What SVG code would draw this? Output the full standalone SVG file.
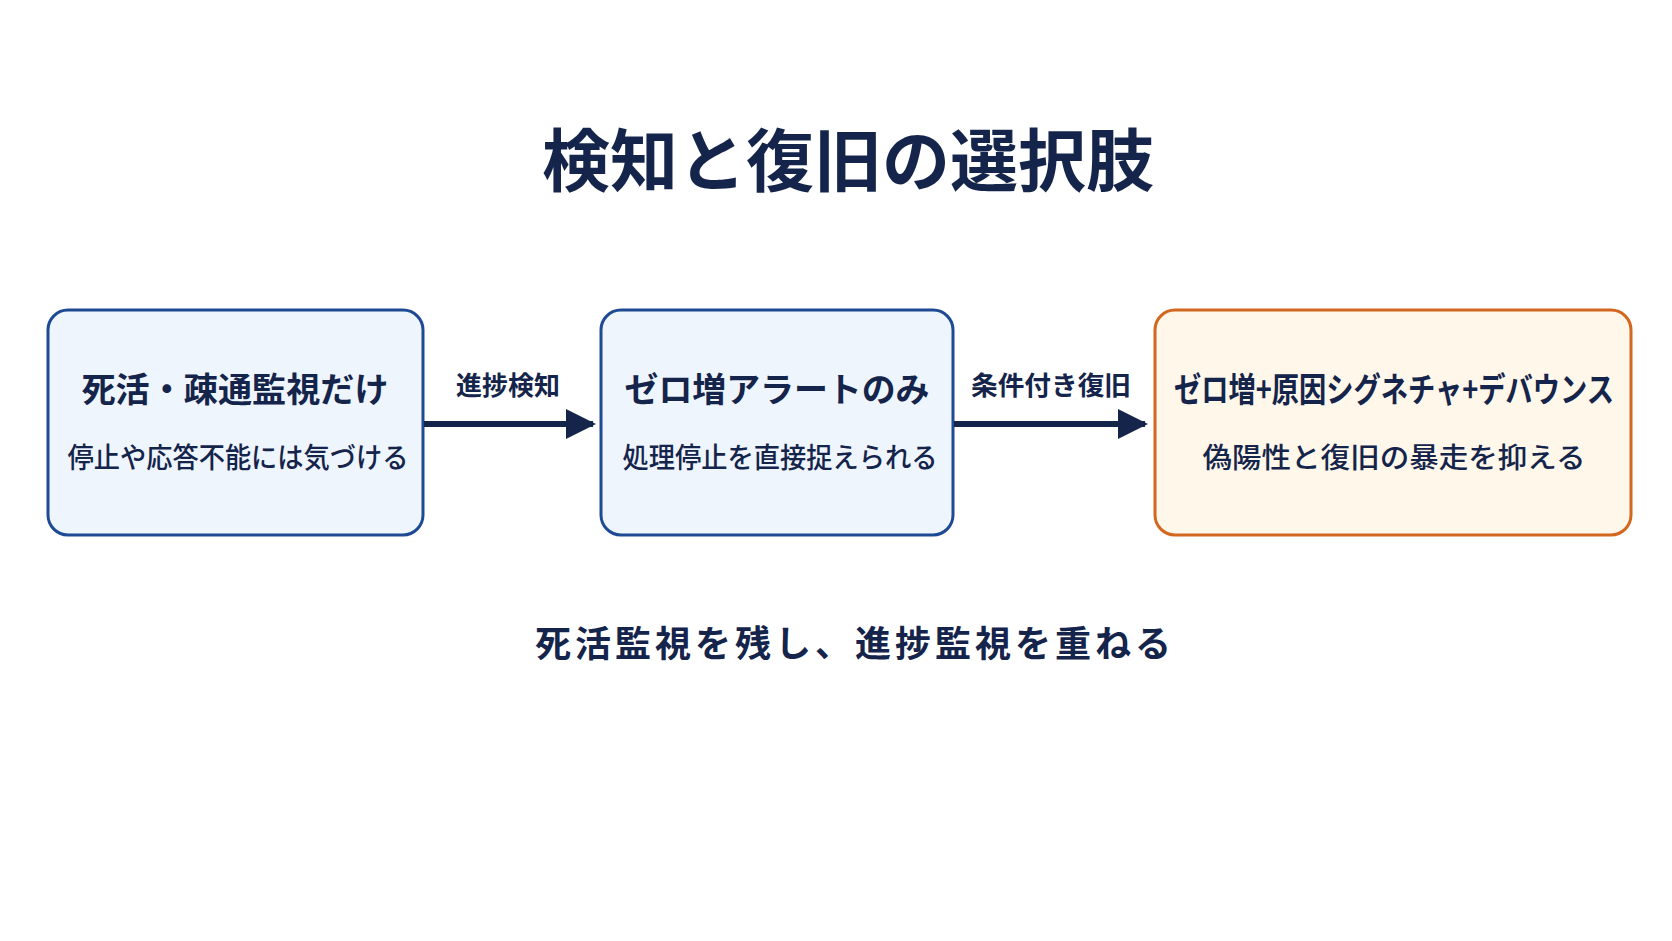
<svg xmlns="http://www.w3.org/2000/svg" width="1672" height="941" viewBox="0 0 1672 941">
<style>
text{font-family:"Noto Sans CJK JP","Noto Sans",sans-serif;fill:#14244a;text-anchor:middle;font-weight:700}
.t{font-size:34px}.s{font-size:28px;font-weight:500}.l{font-size:26px}
.b{fill:#eef5fd;stroke:#1e4a94;stroke-width:3}
.o{fill:#fef7ea;stroke:#d2671f;stroke-width:3}
</style>
<defs>
<marker id="h" viewBox="0 0 10 10" refX="9" refY="5" markerWidth="30" markerHeight="30" markerUnits="userSpaceOnUse" orient="auto"><path d="M0,0L10,5L0,10z" fill="#14244a"/></marker></defs>
<rect width="1672" height="941" fill="#ffffff"/>
<text x="848" y="186" font-size="68" font-weight="900">検知と復旧の選択肢</text>
<g id="n1"><rect class="b" x="48" y="310" width="375" height="225" rx="20"/><text class="t" x="235" y="402" textLength="307" lengthAdjust="spacingAndGlyphs">死活・疎通監視だけ</text><text class="s" x="238" y="468" textLength="341" lengthAdjust="spacingAndGlyphs">停止や応答不能には気づける</text></g>
<g id="n2"><rect class="b" x="601" y="310" width="352" height="225" rx="20"/><text class="t" x="777" y="402" textLength="305" lengthAdjust="spacingAndGlyphs">ゼロ増アラートのみ</text><text class="s" x="780" y="468" textLength="315" lengthAdjust="spacingAndGlyphs">処理停止を直接捉えられる</text></g>
<g id="n3"><rect class="o" x="1155" y="310" width="476" height="225" rx="20"/><text class="t" x="1394" y="402" textLength="440" lengthAdjust="spacingAndGlyphs">ゼロ増+原因シグネチャ+デバウンス</text><text class="s" x="1394" y="468" textLength="383" lengthAdjust="spacingAndGlyphs">偽陽性と復旧の暴走を抑える</text></g>
<g id="edges" stroke="#14244a" stroke-width="6" fill="none">
<line x1="424" y1="424" x2="593" y2="424" marker-end="url(#h)"/>
<line x1="954" y1="424" x2="1145" y2="424" marker-end="url(#h)"/>
</g>
<text class="l" x="508" y="395">進捗検知</text>
<text class="l" x="1051" y="395" textLength="160" lengthAdjust="spacingAndGlyphs">条件付き復旧</text>
<text x="855" y="657" font-size="36" letter-spacing="4">死活監視を残し、進捗監視を重ねる</text>
</svg>
